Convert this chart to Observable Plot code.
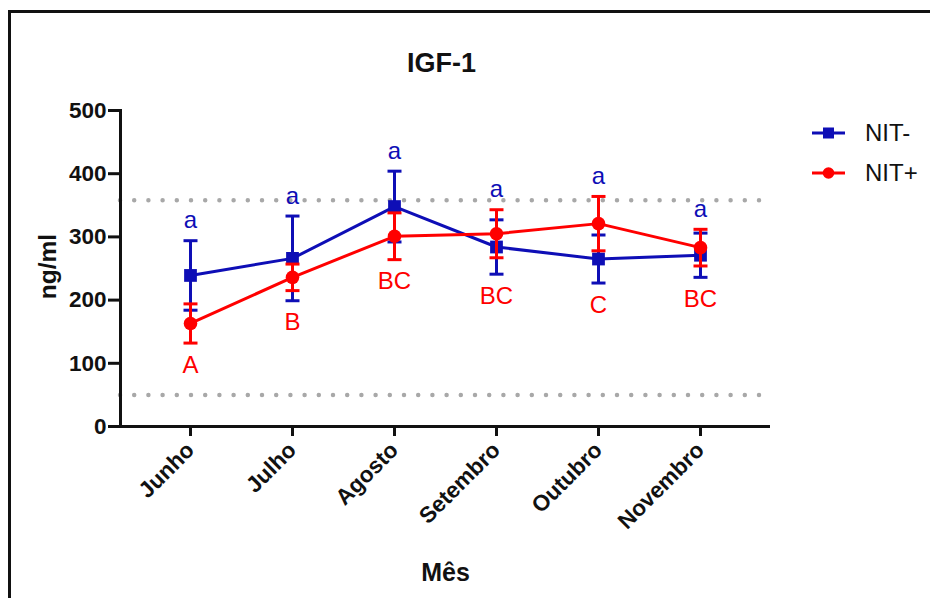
<!DOCTYPE html>
<html>
<head>
<meta charset="utf-8">
<script src="https://cdn.jsdelivr.net/npm/d3@7"></script>
<script src="https://cdn.jsdelivr.net/npm/@observablehq/plot@0.6"></script>
<style>
  body { margin: 0; background: #fff; font-family: "Liberation Sans", Arial, sans-serif; }
  #wrap { position: relative; width: 930px; height: 598px; overflow: hidden; }
  #border { position: absolute; left: 8px; top: 10px; width: 1000px; height: 700px;
            border-top: 3px solid #111; border-left: 3px solid #111; }
  #chart { position: absolute; left: 0; top: 0; }
</style>
</head>
<body>
<div id="wrap"><div id="border"></div><div id="chart"></div></div>
<script>
// Monthly IGF-1 (ng/ml), mean ± error, for the two groups
const months = ["Junho", "Julho", "Agosto", "Setembro", "Outubro", "Novembro"];
const nitMinusMean = [239, 266, 348, 284, 265, 271];
const nitMinusErr  = [55, 67, 56, 43, 38, 35];
const nitPlusMean  = [163, 236, 301, 305, 321, 283];
const nitPlusErr   = [31, 21, 37, 38, 43, 29];
// Significance letters: lower case for NIT-, upper case for NIT+
const upperLetters = ["a", "a", "a", "a", "a", "a"];
const lowerLetters = ["A", "B", "BC", "BC", "C", "BC"];
// Reference interval
const refLimits = [50, 358];
const yTicks = [0, 100, 200, 300, 400, 500];
const seriesNames = ["NIT-", "NIT+"];

const BLUE = "#0e0eb6";
const RED = "#ff0000";
const FONT = "'Liberation Sans', Arial, sans-serif";

// Horizontal cap drawn at the end of each error bar
const capSymbol = {
  draw(context) {
    context.moveTo(-7, 0);
    context.lineTo(7, 0);
  }
};

const toRows = (means, errs) => months.map((m, i) => ({month: m, mean: means[i], err: errs[i]}));
const series = [
  {name: seriesNames[0], color: BLUE, symbol: "square", r: 7.2, rows: toRows(nitMinusMean, nitMinusErr)},
  {name: seriesNames[1], color: RED, symbol: "circle", r: 6.8, rows: toRows(nitPlusMean, nitPlusErr)}
];

const letterRows = months.map((m, i) => ({
  month: m,
  top: Math.max(nitMinusMean[i] + nitMinusErr[i], nitPlusMean[i] + nitPlusErr[i]),
  bottom: Math.min(nitMinusMean[i] - nitMinusErr[i], nitPlusMean[i] - nitPlusErr[i]),
  upper: upperLetters[i],
  lower: lowerLetters[i]
}));

const seriesMarks = series.flatMap(s => [
  Plot.ruleX(s.rows, {x: "month", y1: d => d.mean - d.err, y2: d => d.mean + d.err, stroke: s.color, strokeWidth: 3}),
  Plot.dot(s.rows, {x: "month", y: d => d.mean + d.err, symbol: capSymbol, stroke: s.color, strokeWidth: 3, fill: "none"}),
  Plot.dot(s.rows, {x: "month", y: d => d.mean - d.err, symbol: capSymbol, stroke: s.color, strokeWidth: 3, fill: "none"}),
  Plot.line(s.rows, {x: "month", y: "mean", stroke: s.color, strokeWidth: 3}),
  Plot.dot(s.rows, {x: "month", y: "mean", symbol: s.symbol, r: s.r, fill: s.color, stroke: "none"})
]);

const chart = Plot.plot({
  width: 930,
  height: 598,
  marginLeft: 120,
  marginRight: 160,
  marginTop: 110,
  marginBottom: 172,
  style: {fontFamily: FONT, overflow: "visible", background: "transparent", color: "#111"},
  x: {type: "point", domain: months, padding: 0.674},
  y: {domain: [0, 500]},
  marks: [
    Plot.ruleY(refLimits, {stroke: "#a8a8a8", strokeWidth: 4.5, strokeDasharray: "0 14.2", strokeLinecap: "round"}),
    ...seriesMarks,
    Plot.text(letterRows, {x: "month", y: "top", text: "upper", dy: -20, fill: BLUE, fontSize: 24}),
    Plot.text(letterRows, {x: "month", y: "bottom", text: "lower", dy: 22, fill: RED, fontSize: 24}),
    Plot.axisY({ticks: yTicks, tickSize: 12, tickPadding: 2, fontSize: 22.5, fontWeight: "bold", strokeWidth: 3, label: null}),
    Plot.axisX({tickSize: 10, tickPadding: 10, tickRotate: -45, fontSize: 22.5, fontWeight: "bold", strokeWidth: 3, label: null}),
    Plot.frame({anchor: "left", strokeWidth: 3, stroke: "#111"}),
    Plot.ruleY([0], {strokeWidth: 3, stroke: "#111"}),
    Plot.text(["IGF-1"], {frameAnchor: "top", lineAnchor: "middle", dx: -4, dy: -47, fontSize: 27, fontWeight: "bold", fill: "#111"}),
    Plot.text(["Mês"], {frameAnchor: "bottom", lineAnchor: "middle", dy: 146, fontSize: 25, fontWeight: "bold", fill: "#111"}),
    Plot.text(["ng/ml"], {frameAnchor: "left", textAnchor: "middle", lineAnchor: "middle", dx: -72, dy: -2, rotate: -90, fontSize: 24.5, fontWeight: "bold", fill: "#111"})
  ]
});

// Legend on the right: line with marker, then the series name
const svg = d3.select(chart);
const legend = svg.append("g").attr("font-family", FONT).attr("text-anchor", "start");
series.forEach((s, i) => {
  const y = 133 + i * 40;
  const g = legend.append("g").attr("transform", `translate(0,${y})`);
  g.append("line").attr("x1", 812).attr("x2", 845).attr("stroke", s.color).attr("stroke-width", 3);
  if (s.symbol === "square") {
    g.append("rect").attr("x", 823).attr("y", -5.5).attr("width", 11).attr("height", 11).attr("fill", s.color);
  } else {
    g.append("circle").attr("cx", 828.5).attr("r", 5.8).attr("fill", s.color);
  }
  g.append("text").attr("x", 865).attr("dy", "0.35em").attr("font-size", 24).attr("fill", "#111").text(s.name);
});

document.getElementById("chart").appendChild(chart);
</script>
</body>
</html>
